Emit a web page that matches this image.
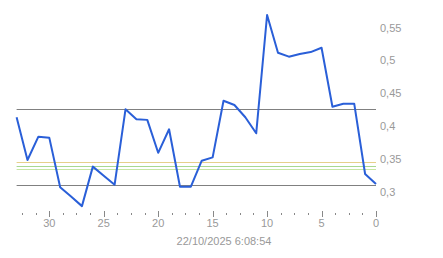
<!DOCTYPE html>
<html>
<head>
<meta charset="utf-8">
<script src="https://cdn.jsdelivr.net/npm/d3@7"></script>
<style>
  body { margin: 0; background: #fff; }
  text { font-family: Arial, 'Liberation Sans', sans-serif; }
</style>
</head>
<body>
<div id="chart"></div>
<script>
const W = 443
const H = 258

// days back from the timestamp, 33 .. 0
const days = d3.range(33, -1, -1)
const values = [
  0.414, 0.349, 0.3845, 0.383, 0.3076, 0.2935, 0.279, 0.339, 0.325, 0.3115,
  0.426, 0.411, 0.41, 0.36, 0.3957, 0.3085, 0.3085, 0.348, 0.353, 0.439,
  0.4326, 0.414, 0.3896, 0.5693, 0.512, 0.506, 0.51, 0.513, 0.5196, 0.43,
  0.4346, 0.4346, 0.3278, 0.3126
]

const refLines = [
  { value: 0.4258, color: '#808080' },
  { value: 0.3455, color: '#e6d08a' },
  { value: 0.3405, color: '#a8d890' },
  { value: 0.3355, color: '#c6e6a4' },
  { value: 0.311, color: '#808080' }
]

const yTicks = [0.3, 0.35, 0.4, 0.45, 0.5, 0.55]
const xTicks = [30, 25, 20, 15, 10, 5, 0]
const minorTicks = d3.range(0, 33, 1.25)
const stamp = '22/10/2025 6:08:54'

const svg = d3
  .select('#chart')
  .append('svg')
  .attr('width', W)
  .attr('height', H)

const x = d3
  .scaleLinear()
  .domain([33, 0])
  .range([16.6, 376])

const y = d3
  .scaleLinear()
  .domain([0.3, 0.55])
  .range([192.3, 27.7])

const fmt = d => String(d).replace('.', ',')

// reference lines
svg
  .selectAll('.ref')
  .data(refLines)
  .enter()
  .append('line')
  .attr('x1', x(33))
  .attr('x2', x(0))
  .attr('y1', d => Math.round(y(d.value)) + 0.5)
  .attr('y2', d => Math.round(y(d.value)) + 0.5)
  .attr('stroke', d => d.color)
  .attr('stroke-width', 1)

// y labels on the right
svg
  .selectAll('.ylab')
  .data(yTicks)
  .enter()
  .append('text')
  .attr('x', 380)
  .attr('y', d => y(d))
  .attr('dy', '0.35em')
  .attr('font-size', 11)
  .attr('fill', '#999')
  .text(fmt)

// minor ticks
svg
  .selectAll('.minor')
  .data(minorTicks.filter(d => d % 5 !== 0))
  .enter()
  .append('line')
  .attr('x1', d => Math.round(x(d)) + 0.5)
  .attr('x2', d => Math.round(x(d)) + 0.5)
  .attr('y1', 213)
  .attr('y2', 215)
  .attr('stroke', '#888')

// major ticks + labels
svg
  .selectAll('.major')
  .data(xTicks)
  .enter()
  .append('line')
  .attr('x1', d => Math.round(x(d)) + 0.5)
  .attr('x2', d => Math.round(x(d)) + 0.5)
  .attr('y1', 211)
  .attr('y2', 217)
  .attr('stroke', '#888')

svg
  .selectAll('.xlab')
  .data(xTicks)
  .enter()
  .append('text')
  .attr('x', d => x(d))
  .attr('y', 223)
  .attr('dy', '0.35em')
  .attr('text-anchor', 'middle')
  .attr('font-size', 11)
  .attr('fill', '#999')
  .text(d => d)

svg
  .append('text')
  .attr('x', 224)
  .attr('y', 241.5)
  .attr('dy', '0.35em')
  .attr('text-anchor', 'middle')
  .attr('font-size', 11)
  .attr('fill', '#999')
  .text(stamp)

// the series
const line = d3
  .line()
  .x((d, i) => x(days[i]))
  .y(d => y(d))

svg
  .append('path')
  .datum(values)
  .attr('d', line)
  .attr('fill', 'none')
  .attr('stroke', '#2a5fd8')
  .attr('stroke-width', 2)
  .attr('stroke-linejoin', 'round')
</script>
</body>
</html>
